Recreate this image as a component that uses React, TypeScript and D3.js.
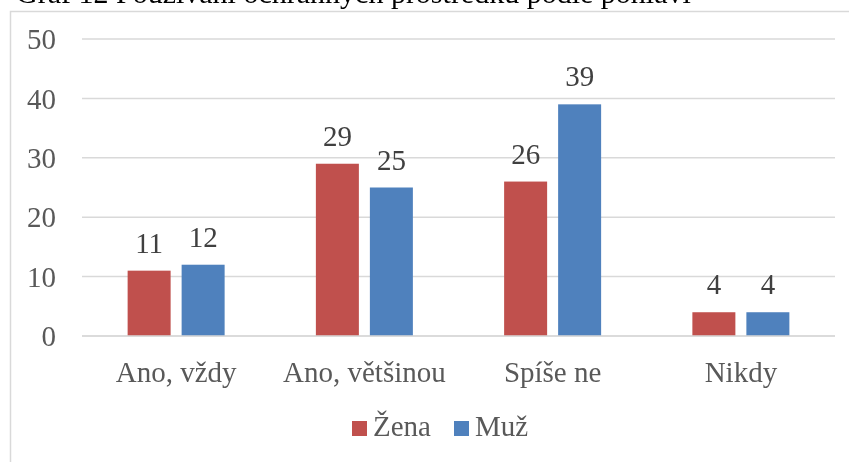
import { useEffect, useRef } from 'react';
import * as d3 from 'd3';

const categories = ['Ano, vždy', 'Ano, většinou', 'Spíše ne', 'Nikdy'];
const seriesNames = ['Žena', 'Muž'];
const zenaValues = [11, 29, 26, 4];
const muzValues = [12, 25, 39, 4];
const yTicks = [0, 10, 20, 30, 40, 50];
const colors = ['#C0504D', '#4F81BD'];

const W = 849;
const H = 462;
const FONT = '"Liberation Serif", "Times New Roman", serif';
const FS = '29px';

export default function App() {
  const svgRef = useRef<SVGSVGElement | null>(null);

  useEffect(() => {
    if (!svgRef.current) return;
    const svg = d3.select(svgRef.current);
    svg.selectAll('*').remove();

    svg.append('rect').attr('width', W).attr('height', H).attr('fill', '#fff');

    // caption, cut off at the top of the image
    svg.append('text')
      .attr('x', 16)
      .attr('y', 3)
      .style('font-family', FONT)
      .style('font-size', '30px')
      .attr('fill', '#000')
      .text('Graf 12 Používání ochranných prostředků podle pohlaví');

    // chart frame
    svg.append('rect')
      .attr('x', 10.5)
      .attr('y', 11.5)
      .attr('width', W + 10)
      .attr('height', H + 10)
      .attr('fill', '#fff')
      .attr('stroke', '#d9d9d9')
      .attr('stroke-width', 1.5);

    const plotLeft = 82;
    const plotRight = 835;

    const x = d3.scaleBand<string>()
      .domain(categories)
      .range([plotLeft, plotRight])
      .paddingInner(0)
      .paddingOuter(0);

    const y = d3.scaleLinear().domain([0, 50]).range([336, 39]);

    // gridlines
    svg.append('g')
      .selectAll('line')
      .data(yTicks)
      .enter()
      .append('line')
      .attr('x1', plotLeft)
      .attr('x2', plotRight)
      .attr('y1', d => y(d))
      .attr('y2', d => y(d))
      .attr('stroke', '#d9d9d9')
      .attr('stroke-width', 1.5);

    // y tick labels
    svg.append('g')
      .selectAll('text')
      .data(yTicks)
      .enter()
      .append('text')
      .attr('x', 56)
      .attr('y', d => y(d))
      .attr('dy', '0.35em')
      .attr('text-anchor', 'end')
      .style('font-family', FONT)
      .style('font-size', FS)
      .attr('fill', '#595959')
      .text(d => d);

    const barW = 43;
    const gap = 11;
    const series = [zenaValues, muzValues];

    series.forEach((vals, si) => {
      const offset = si === 0 ? -gap / 2 - barW : gap / 2;
      const g = svg.append('g');
      g.selectAll('rect')
        .data(vals)
        .enter()
        .append('rect')
        .attr('x', (d, i) => x(categories[i])! + x.bandwidth() / 2 + offset)
        .attr('y', d => y(d))
        .attr('width', barW)
        .attr('height', d => y(0) - y(d))
        .attr('fill', colors[si]);

      g.selectAll('text')
        .data(vals)
        .enter()
        .append('text')
        .attr('x', (d, i) => x(categories[i])! + x.bandwidth() / 2 + offset + barW / 2)
        .attr('y', d => y(d) - 18)
        .attr('text-anchor', 'middle')
        .style('font-family', FONT)
        .style('font-size', FS)
        .attr('fill', '#404040')
        .text(d => d);
    });

    // baseline on top of bars
    svg.append('line')
      .attr('x1', plotLeft)
      .attr('x2', plotRight)
      .attr('y1', y(0))
      .attr('y2', y(0))
      .attr('stroke', '#d9d9d9')
      .attr('stroke-width', 1.5);

    // category labels
    svg.append('g')
      .selectAll('text')
      .data(categories)
      .enter()
      .append('text')
      .attr('x', d => x(d)! + x.bandwidth() / 2)
      .attr('y', 382)
      .attr('text-anchor', 'middle')
      .style('font-family', FONT)
      .style('font-size', FS)
      .attr('fill', '#595959')
      .text(d => d);

    // legend
    const legendX = [352, 454];
    seriesNames.forEach((name, i) => {
      svg.append('rect')
        .attr('x', legendX[i])
        .attr('y', 421)
        .attr('width', 15)
        .attr('height', 15)
        .attr('fill', colors[i]);
      svg.append('text')
        .attr('x', legendX[i] + 21)
        .attr('y', 436)
        .style('font-family', FONT)
        .style('font-size', FS)
        .attr('fill', '#595959')
        .text(name);
    });
  }, []);

  return (
    <div style={{ position: 'fixed', left: 0, top: 0 }}>
      <svg ref={svgRef} width={W} height={H} style={{ display: 'block' }}></svg>
    </div>
  );
}
